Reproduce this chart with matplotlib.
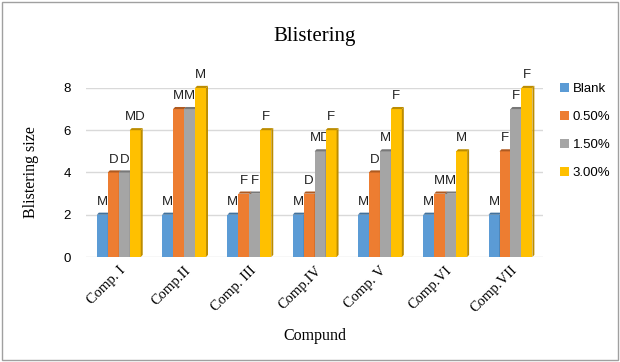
import matplotlib
matplotlib.use("Agg")
import matplotlib.pyplot as plt
from matplotlib.patches import Polygon, Rectangle
import numpy as np

categories = ["Comp. I", "Comp.II", "Comp. III", "Comp.IV", "Comp. V", "Comp.VI", "Comp.VII"]
series_names = ["Blank", "0.50%", "1.50%", "3.00%"]
blank = [2, 2, 2, 2, 2, 2, 2]
p050 = [4, 7, 3, 3, 4, 3, 5]
p150 = [4, 7, 3, 5, 5, 3, 7]
p300 = [6, 8, 6, 6, 7, 5, 8]
lab_blank = ["M", "M", "M", "M", "M", "M", "M"]
lab_050 = ["D", "M", "F", "D", "D", "M", "F"]
lab_150 = ["D", "M", "F", "MD", "M", "M", "F"]
lab_300 = ["MD", "M", "F", "F", "F", "M", "F"]

values = [blank, p050, p150, p300]
labels = [lab_blank, lab_050, lab_150, lab_300]
colors = ["#5B9BD5", "#ED7D31", "#A5A5A5", "#FFC000"]
dark = ["#41719C", "#AE5A21", "#787878", "#BC8C00"]

serif = ["Liberation Serif", "DejaVu Serif"]
sans = ["Liberation Sans", "DejaVu Sans"]

fig = plt.figure(figsize=(6.2, 3.62), dpi=100)
fig.patches.append(Rectangle((0.004, 0.006), 0.992, 0.988, transform=fig.transFigure,
                             fill=False, edgecolor="#A0A0A0", linewidth=1.0))
ax = fig.add_axes([0.139, 0.29, 0.737, 0.467])

x = np.arange(len(categories))
w = 0.168
dx, dy = 0.03, 0.1
for i, (vals, col, dk, labs) in enumerate(zip(values, colors, dark, labels)):
    pos = x + (i - 1.5) * w
    ax.bar(pos, vals, width=w, color=col, edgecolor="none", label=series_names[i],
           zorder=3, clip_on=False)
    for xp, v, lb in zip(pos, vals, labs):
        right = xp + w / 2
        left = xp - w / 2
        ax.add_patch(Polygon([(right, 0), (right + dx, dy), (right + dx, v + dy), (right, v)],
                             closed=True, facecolor=dk, edgecolor="none", zorder=3, clip_on=False))
        ax.add_patch(Polygon([(left, v), (left + dx, v + dy), (right + dx, v + dy), (right, v)],
                             closed=True, facecolor=dk, edgecolor="none", zorder=3, clip_on=False))
        ax.annotate(lb, (xp, v), xytext=(0, 5), textcoords="offset points",
                    ha="center", va="bottom", fontsize=9.5, family=sans, color="#222222")

ax.set_xlim(-0.5, len(categories) - 0.5)
ax.set_ylim(0, 8)
ax.set_yticks([0, 2, 4, 6, 8])
ax.yaxis.grid(True, color="#D9D9D9", linewidth=1, zorder=0)
ax.set_axisbelow(True)
for s in ax.spines.values():
    s.set_visible(False)
ax.tick_params(axis="both", length=0)
ax.tick_params(axis="y", labelsize=9.5, pad=11)
for t in ax.get_yticklabels():
    t.set_family(sans)
ax.set_xticks(x)
ax.set_xticklabels(categories, rotation=45, ha="right", rotation_mode="anchor",
                   family=serif, fontsize=10.5)
ax.tick_params(axis="x", pad=5)
ax.set_xlabel("Compund", family=serif, fontsize=11.5, labelpad=9)
ax.set_ylabel("Blistering size", family=serif, fontsize=11.5, labelpad=18)
fig.text(0.508, 0.9, "Blistering", ha="center", va="center", family=serif, fontsize=15)

leg = ax.legend(loc="upper left", bbox_to_anchor=(1.01, 1.1), frameon=False,
                prop={"family": sans, "size": 9.5}, handlelength=0.7, handleheight=0.7,
                handletextpad=0.3, labelspacing=1.2)

fig.savefig("out.png", dpi=100)
